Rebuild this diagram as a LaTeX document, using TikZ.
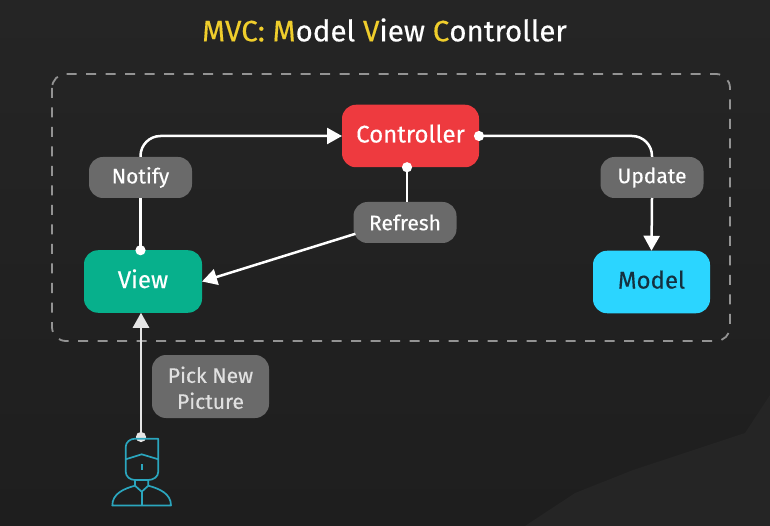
\documentclass[tikz,border=0pt]{standalone}
\usepackage{fontspec}
\setmainfont{Fira Sans}[FakeBold=0.35]
\usetikzlibrary{arrows.meta, backgrounds, calc}

\definecolor{slidelow}{HTML}{1E1E1E}
\definecolor{slidetop}{HTML}{252525}
\definecolor{slidecorner}{HTML}{252525}
\definecolor{titleyellow}{HTML}{F0CE2C}
\definecolor{ctrlred}{HTML}{EE3A3F}
\definecolor{viewgreen}{HTML}{07B08C}
\definecolor{modelblue}{HTML}{2BD5FF}
\definecolor{modelink}{HTML}{14303F}
\definecolor{taggrey}{HTML}{6A6A6A}
\definecolor{usercyan}{HTML}{2BA6BE}

\tikzset{
    box/.style={rounded corners=14pt, inner sep=0pt, outer sep=0pt, minimum height=62.5pt, text height=17pt, text depth=4pt, font=\fontsize{24}{24}\selectfont},
    tag/.style={fill=taggrey, text=white, rounded corners=14pt, inner sep=0pt, outer sep=0pt, minimum width=103pt, minimum height=41pt, font=\fontsize{21}{26}\selectfont, align=center},
    link/.style={draw=white, line width=2.5pt},
    knob/.tip={Circle[length=10pt]},
    head/.tip={Triangle[length=15pt, width=16pt]},
    fromknob/.style={knob-, shorten <=-5pt},
}

\begin{document}
\begin{tikzpicture}[x=1pt, y=-1pt]
    \useasboundingbox (0, 0) rectangle (770, 526);

    \begin{scope}[on background layer]
        % hintergrund
        \shade [top color=slidetop, bottom color=slidelow] (0, 0) rectangle (770, 526);
        \fill [slidecorner] (525, 526) -- (575, 493) -- (633, 470) -- (745, 433) -- (770, 395) -- (770, 526) -- cycle;
        % rahmen
        \draw [gray!85, line width=1.8pt, dash pattern=on 10pt off 9.5pt, rounded corners=14pt] (52, 74) rectangle (730, 341);
    \end{scope}

    % bausteine
    \node [box, fill=ctrlred, text=white, minimum width=137pt] (controller) at (410.5, 136) {Controller};
    \node [box, fill=viewgreen, text=white, minimum width=118pt] (view) at (143, 281.5) {View};
    \node [box, fill=modelblue, text=modelink, minimum width=117pt] (model) at (651.5, 282) {Model};
    \node [tag] (notify) at (140.5, 177.5) {Notify};
    \node [tag] (refresh) at (405, 222.5) {Refresh};
    \node [tag] (update) at (652, 177.5) {Update};
    \node [tag, text=white!88!black, minimum width=117pt, minimum height=63pt] (pick) at (210.5, 386.5) {\rule{0pt}{19pt}Pick New\\Picture};
    \node [font=\fontsize{29.5}{32}\selectfont, text=white] (title) at (384.5, 30) {\textcolor{titleyellow}{MVC: M}odel \textcolor{titleyellow}{V}iew \textcolor{titleyellow}{C}ontroller};
    \coordinate (user) at (141, 437);

    % verbindungen
    \draw [link, fromknob] (notify |- view.north) -- (notify);
    \draw [link, -head, rounded corners=20pt] (notify.north) |- (controller.west);
    \draw [link, fromknob, rounded corners=20pt] (controller.east) -| (update.north);
    \draw [link, -head] (update.south) -- (model.north);
    \draw [link, fromknob] (407, 0 |- controller.south) -- (407, 0 |- refresh.north);
    \draw [link, -head, shorten <=-2pt] (refresh.193) -- (view.east);
    \draw [link, draw=white!90!black, knob-head, shorten <=-5pt] (user) -- (view.south -| user);

    % figur
    \begin{scope}[usercyan, line width=1.7pt, line join=round]
        \draw (158.3, 438.7) -- (135, 438.7) to [out=180, in=90] (125.7, 447) -- (125.7, 459.3) -- (141.7, 454.3) -- (158.3, 459.3) -- cycle;
        \draw (125.7, 459.3) -- (125.7, 471.7) to [out=-90, in=180] (135, 480) -- (148.3, 480) to [out=0, in=-90] (158.3, 471.7) -- (158.3, 459.3);
        \draw (141.7, 464) -- (141.7, 470);
        \draw (135, 480) -- (135, 485.7) -- (141.7, 491.7) -- (148.3, 485.7) -- (148.3, 480);
        \draw (135, 485.7) to [out=195, in=90] (112.3, 505.5) -- (171, 505.5) to [out=90, in=-15] (148.3, 485.7);
        \draw (141.7, 491.7) -- (141.7, 505.5);
    \end{scope}
\end{tikzpicture}
\end{document}
